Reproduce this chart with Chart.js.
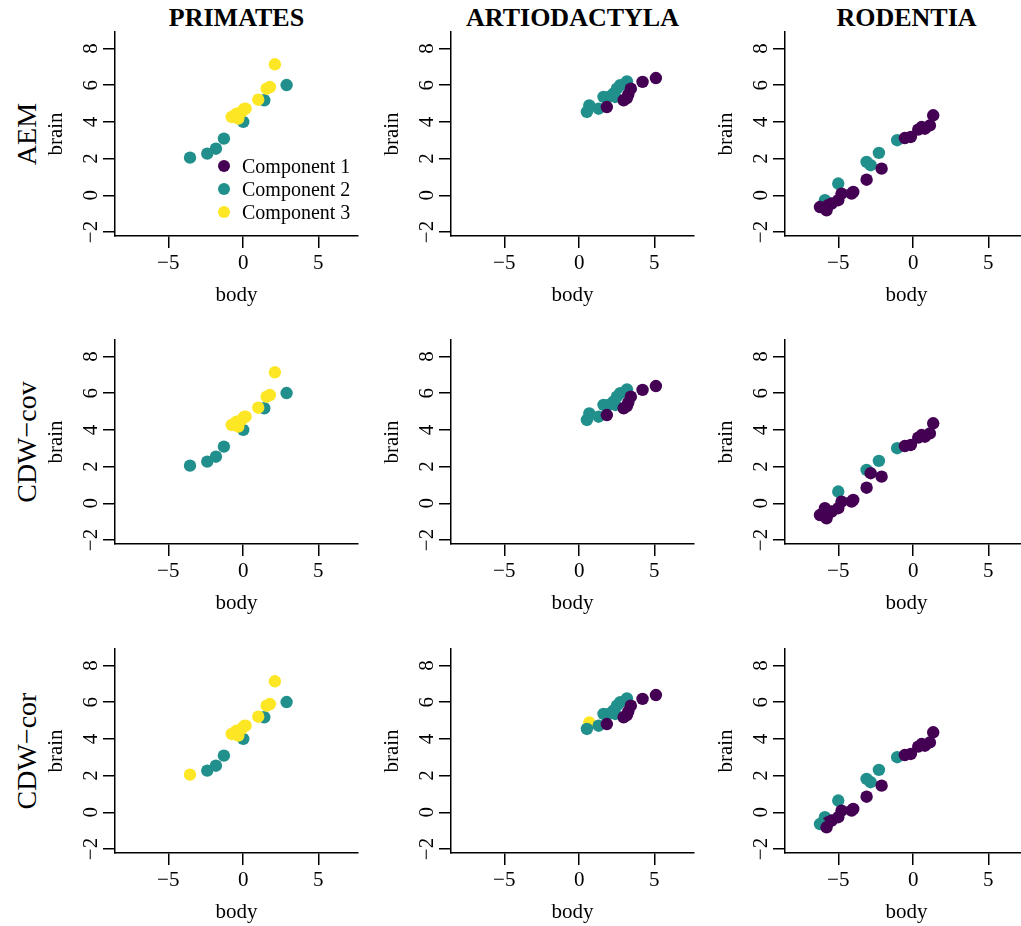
<!DOCTYPE html>
<html>
<head>
<meta charset="utf-8">
<script src="https://cdn.jsdelivr.net/npm/chart.js@4.4.1/dist/chart.umd.min.js"></script>
<style>
  body { margin: 0; background: #fff; width: 1021px; height: 926px; overflow: hidden; position: relative; font-family: "Liberation Serif", "DejaVu Serif", serif; color: #000; }
  canvas { position: absolute; }
  .title { position: absolute; top: 3px; width: 243px; text-align: center; font-weight: bold; font-size: 26px; line-height: 30px; }
  .rowlab { position: absolute; width: 200px; text-align: center; font-size: 28px; line-height: 32px; transform: rotate(-90deg); }
  .legend { position: absolute; font-size: 20px; line-height: 23px; }
  .legend div { position: relative; padding-left: 24px; white-space: nowrap; }
  .legend span { position: absolute; left: 0px; top: 5px; width: 12px; height: 12px; border-radius: 50%; }
</style>
</head>
<body>
<script>
const orders = ["PRIMATES", "ARTIODACTYLA", "RODENTIA"];
const methods = ["AEM", "CDW\u2212cov", "CDW\u2212cor"];
const componentNames = ["Component 1", "Component 2", "Component 3"];
const componentColors = ["#440154", "#21908C", "#FDE725"];
const xTicks = [-5, 0, 5];
const yTicks = [-2, 0, 2, 4, 6, 8];

// log body / log brain
const primatesBody  = [-3.55, -2.40, -1.82, -1.29, 0.00, 1.40, 2.89, 2.11, 1.78, 1.56, 1.00, -0.77, -0.44, -0.11, 0.16, -0.33, -0.55, 0.05];
const primatesBrain = [2.05, 2.27, 2.54, 3.09, 4.00, 5.18, 6.01, 7.14, 5.90, 5.81, 5.21, 4.27, 4.45, 4.54, 4.72, 4.18, 4.36, 4.70];
const primatesAEM   = [2, 2, 2, 2, 2, 2, 2, 3, 3, 3, 3, 3, 3, 3, 3, 3, 3, 3];
const primatesCov   = [2, 2, 2, 2, 2, 2, 2, 3, 3, 3, 3, 3, 3, 3, 3, 3, 3, 3];
const primatesCor   = [3, 2, 2, 2, 2, 2, 2, 3, 3, 3, 3, 3, 3, 3, 3, 3, 3, 3];

const artioBody  = [0.67, 0.51, 1.29, 1.62, 1.96, 2.18, 2.40, 2.51, 2.73, 3.18, 2.30, 1.84, 2.96, 3.18, 3.27, 3.44, 4.22, 5.11];
const artioBrain = [4.90, 4.54, 4.72, 5.36, 5.36, 5.45, 5.36, 5.81, 6.00, 6.21, 5.55, 4.81, 5.18, 5.30, 5.50, 5.81, 6.18, 6.39];
const artioAEM   = [2, 2, 2, 2, 2, 2, 2, 2, 2, 2, 2, 1, 1, 1, 1, 1, 1, 1];
const artioCov   = [2, 2, 2, 2, 2, 2, 2, 2, 2, 2, 2, 1, 1, 1, 1, 1, 1, 1];
const artioCor   = [3, 2, 2, 2, 2, 2, 2, 2, 2, 2, 2, 1, 1, 1, 1, 1, 1, 1];

const rodentBody  = [-1.07, -2.29, -3.11, -2.84, -5.00, -5.89, 1.33, 1.11, 0.78, 0.56, 0.33, -0.16, -0.56, -2.11, -3.11, -4.00, -4.11, -4.78, -5.00, -5.44, -5.67, -6.22, -5.78];
const rodentBrain = [3.00, 2.31, 1.82, 1.64, 0.64, -0.27, 4.36, 3.81, 3.63, 3.72, 3.58, 3.18, 3.12, 1.45, 0.85, 0.18, 0.09, 0.09, -0.27, -0.45, -0.54, -0.64, -0.82];
const rodentAEM   = [2, 2, 2, 2, 2, 2, 1, 1, 1, 1, 1, 1, 1, 1, 1, 1, 1, 1, 1, 1, 1, 1, 1];
const rodentCov   = [2, 2, 2, 1, 2, 1, 1, 1, 1, 1, 1, 1, 1, 1, 1, 1, 1, 1, 1, 1, 1, 1, 1];
const rodentCor   = [2, 2, 2, 2, 2, 2, 1, 1, 1, 1, 1, 1, 1, 1, 1, 1, 1, 1, 1, 1, 1, 2, 1];

const panels = [
  [[primatesBody, primatesBrain, primatesAEM], [artioBody, artioBrain, artioAEM], [rodentBody, rodentBrain, rodentAEM]],
  [[primatesBody, primatesBrain, primatesCov], [artioBody, artioBrain, artioCov], [rodentBody, rodentBrain, rodentCov]],
  [[primatesBody, primatesBrain, primatesCor], [artioBody, artioBrain, artioCor], [rodentBody, rodentBrain, rodentCor]]
];

const colAxis = [115, 451, 785];
const rowTop = [0, 308, 617];

Chart.defaults.font.family = '"Liberation Serif", "DejaVu Serif", serif';
Chart.defaults.color = "#000";

const fmt = v => v < 0 ? "\u2212" + Math.abs(v) : String(v);

orders.forEach((name, j) => {
  const t = document.createElement("div");
  t.className = "title";
  t.style.left = colAxis[j] + "px";
  t.textContent = name;
  document.body.appendChild(t);
});

methods.forEach((name, i) => {
  const r = document.createElement("div");
  r.className = "rowlab";
  r.style.left = (27 - 100) + "px";
  r.style.top = (rowTop[i] + 134 - 16) + "px";
  r.textContent = name;
  document.body.appendChild(r);
});

function makePanel(i, j) {
  const [xs, ys, comp] = panels[i][j];
  const canvas = document.createElement("canvas");
  canvas.width = 353;
  canvas.height = 308;
  canvas.style.left = (colAxis[j] - 100) + "px";
  canvas.style.top = rowTop[i] + "px";
  document.body.appendChild(canvas);

  const axisLine = { color: "#000", width: 1.5 };
  const tickMarks = { drawOnChartArea: false, color: "#000", lineWidth: 1.5, tickLength: 12 };

  new Chart(canvas, {
    type: "scatter",
    data: {
      datasets: [{
        data: xs.map((x, k) => ({ x: x, y: ys[k] })),
        pointRadius: 6.2,
        pointBorderWidth: 0,
        pointBackgroundColor: comp.map(c => componentColors[c - 1]),
        pointBorderColor: comp.map(c => componentColors[c - 1])
      }]
    },
    options: {
      responsive: false,
      animation: false,
      layout: { padding: { top: 32, right: 10, left: 0, bottom: 0 } },
      plugins: { legend: { display: false }, tooltip: { enabled: false } },
      scales: {
        x: {
          type: "linear",
          min: -8.55,
          max: 7.65,
          afterBuildTicks: s => { s.ticks = xTicks.map(v => ({ value: v })); },
          afterFit: s => { s.height = 72; },
          grid: tickMarks,
          border: axisLine,
          ticks: { font: { size: 21 }, padding: 3, maxRotation: 0, autoSkip: false, callback: fmt },
          title: { display: true, text: "body", font: { size: 21 }, padding: 0 }
        },
        y: {
          type: "linear",
          min: -2.22,
          max: 8.9,
          afterBuildTicks: s => { s.ticks = yTicks.map(v => ({ value: v })); },
          afterFit: s => { s.width = 100; },
          grid: tickMarks,
          border: axisLine,
          ticks: { font: { size: 21 }, padding: 0, minRotation: 90, maxRotation: 90, crossAlign: "center", autoSkip: false, callback: fmt },
          title: { display: true, text: "brain", font: { size: 21 }, padding: { top: 29, bottom: 0 } }
        }
      }
    }
  });
}

for (let i = 0; i < 3; i++) {
  for (let j = 0; j < 3; j++) makePanel(i, j);
}

// legend inside the first panel
const legend = document.createElement("div");
legend.className = "legend";
legend.style.left = "218px";
legend.style.top = "155px";
componentNames.forEach((name, k) => {
  const row = document.createElement("div");
  const dot = document.createElement("span");
  dot.style.background = componentColors[k];
  row.appendChild(dot);
  row.appendChild(document.createTextNode(name));
  legend.appendChild(row);
});
document.body.appendChild(legend);
</script>
</body>
</html>
